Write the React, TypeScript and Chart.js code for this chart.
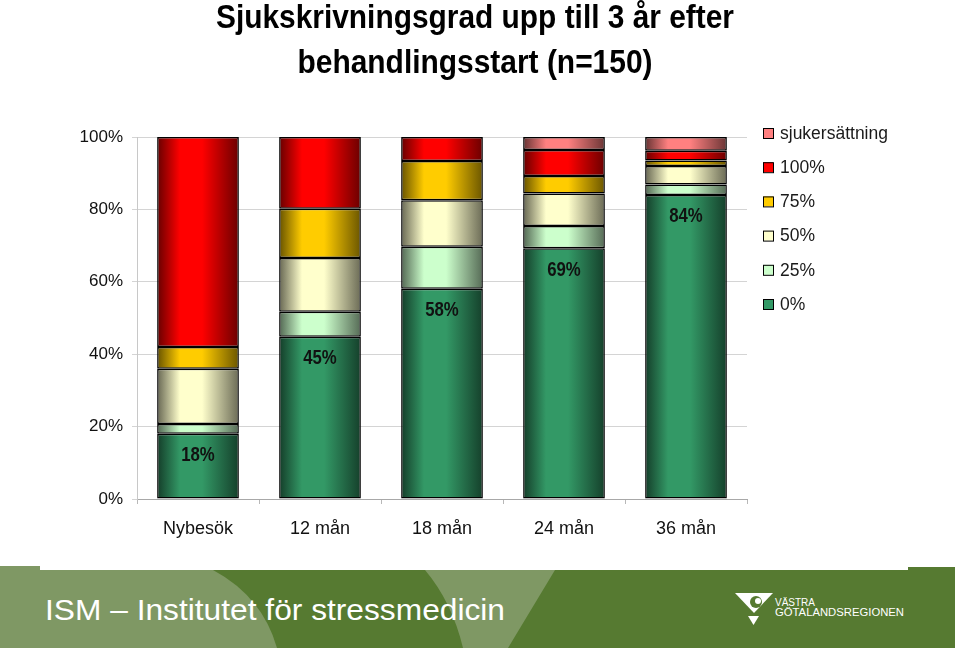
import React, { useEffect, useRef } from "react";
import { Chart, registerables } from "chart.js";

Chart.register(...registerables);

const categories = ["Nybesök", "12 mån", "18 mån", "24 mån", "36 mån"];
const seriesLabels = ["0%", "25%", "50%", "75%", "100%", "sjukersättning"];
const v0 = [18.0, 44.8, 58.1, 69.3, 84.0];
const v25 = [2.7, 6.9, 11.6, 6.1, 2.9];
const v50 = [15.3, 14.9, 12.8, 9.0, 5.1];
const v75 = [6.0, 13.6, 10.9, 4.8, 1.5];
const v100 = [58.0, 19.8, 6.6, 7.2, 2.7];
const vSjuk = [0, 0, 0, 3.6, 3.8];
const yTicks = [0, 20, 40, 60, 80, 100];
const titleLines = ["Sjukskrivningsgrad upp till 3 år efter", "behandlingsstart (n=150)"];

const seriesValues = [v0, v25, v50, v75, v100, vSjuk];
const seriesColors = ["#339966", "#CCFFCC", "#FFFFCC", "#FFCC00", "#FF0000", "#FF8080"];

const FONT = '"Liberation Sans", Arial, sans-serif';
const BAR_PCT = 0.67;

function hexToRgb(h: string) {
  const n = parseInt(h.slice(1), 16);
  return [(n >> 16) & 255, (n >> 8) & 255, n & 255];
}
function shade(h: string, f: number) {
  const [r, g, b] = hexToRgb(h);
  return `rgb(${Math.round(r * f)},${Math.round(g * f)},${Math.round(b * f)})`;
}

function barFill(base: string) {
  return (ctx: any) => {
    const chart = ctx.chart;
    const xs = chart.scales && chart.scales.x;
    if (!xs || !chart.chartArea || ctx.dataIndex === undefined) return base;
    const cx = xs.getPixelForValue(ctx.dataIndex);
    const w = (xs.width / categories.length) * BAR_PCT;
    if (!isFinite(cx) || !isFinite(w)) return base;
    const g = chart.ctx.createLinearGradient(cx - w / 2, 0, cx + w / 2, 0);
    g.addColorStop(0, shade(base, 0.4));
    g.addColorStop(0.28, shade(base, 1));
    g.addColorStop(0.55, shade(base, 1));
    g.addColorStop(1, shade(base, 0.42));
    return g;
  };
}

const titlePlugin = {
  id: "customTitle",
  afterDraw(chart: any) {
    const c = chart.ctx;
    const specs = [
      { text: titleLines[0], y: 28, w: 518 },
      { text: titleLines[1], y: 73, w: 355 },
    ];
    c.save();
    c.fillStyle = "#000";
    c.font = `bold 33px ${FONT}`;
    c.textAlign = "center";
    c.textBaseline = "alphabetic";
    for (const s of specs) {
      const m = c.measureText(s.text).width;
      c.save();
      c.translate(475, s.y);
      c.scale(s.w / m, 1);
      c.fillText(s.text, 0, 0);
      c.restore();
    }
    c.restore();
  },
};

const legendPlugin = {
  id: "customLegend",
  afterDraw(chart: any) {
    const c = chart.ctx;
    c.save();
    c.font = `17.5px ${FONT}`;
    c.textBaseline = "middle";
    c.textAlign = "left";
    const n = chart.data.datasets.length;
    for (let i = 0; i < n; i++) {
      const ds = chart.data.datasets[n - 1 - i];
      const y = 133 + i * 34.2;
      c.fillStyle = ds.legendColor;
      c.fillRect(763, y - 5, 10, 10);
      c.strokeStyle = "#000";
      c.lineWidth = 1;
      c.strokeRect(763.5, y - 4.5, 10, 10);
      c.fillStyle = "#1a1a1a";
      c.fillText(ds.label, 780, y + 1);
    }
    c.restore();
  },
};

const valueLabelPlugin = {
  id: "valueLabels",
  afterDatasetsDraw(chart: any) {
    const meta = chart.getDatasetMeta(0);
    const c = chart.ctx;
    c.save();
    c.font = `bold 19.5px ${FONT}`;
    c.fillStyle = "#111";
    c.textAlign = "center";
    c.textBaseline = "middle";
    meta.data.forEach((el: any, i: number) => {
      const v = chart.data.datasets[0].data[i];
      c.save();
      c.translate(el.x, el.y + 22);
      c.scale(0.86, 1);
      c.fillText(`${Math.round(v)}%`, 0, 0);
      c.restore();
    });
    c.restore();
  },
};

function Footer() {
  return (
    <div style={{ position: "absolute", left: 0, top: 566, width: 960, height: 85 }}>
      <svg width={960} height={85} style={{ display: "block" }}>
        <rect x={0} y={0} width={40} height={4} fill="#7f9864" />
        <rect x={908} y={1} width={47} height={4} fill="#567a31" />
        <rect x={0} y={4} width={955} height={78} fill="#567a31" />
        <path d="M0,4 L213,4 Q262,30 277,82 L0,82 Z" fill="#7f9864" />
        <path d="M425,4 Q452,36 463,82 L508,82 L555,4 Z" fill="#7f9864" />
        <text x={45} y={54} fill="#ffffff" fontFamily={FONT} fontSize={30} textLength={460} lengthAdjust="spacingAndGlyphs">
          ISM – Institutet för stressmedicin
        </text>
        <path d="M735,27 L773,27 L754,47 Z" fill="#ffffff" />
        <circle cx={756} cy={36} r={6} fill="#567a31" />
        <circle cx={758} cy={35} r={3} fill="#ffffff" />
        <path d="M748,50 L759,50 L753.5,59 Z" fill="#ffffff" />
        <text x={775} y={40} fill="#ffffff" fontFamily={FONT} fontSize={10} textLength={40} lengthAdjust="spacingAndGlyphs">
          VÄSTRA
        </text>
        <text x={775} y={50} fill="#ffffff" fontFamily={FONT} fontSize={10} textLength={129} lengthAdjust="spacingAndGlyphs">
          GÖTALANDSREGIONEN
        </text>
      </svg>
    </div>
  );
}

export default function App() {
  const ref = useRef<HTMLCanvasElement | null>(null);
  useEffect(() => {
    if (!ref.current) return;
    const chart = new Chart(ref.current, {
      type: "bar",
      data: {
        labels: categories,
        datasets: seriesValues.map((vals, i) => ({
          label: seriesLabels[i],
          data: vals,
          legendColor: seriesColors[i],
          backgroundColor: barFill(seriesColors[i]),
          borderColor: "#000000",
          borderWidth: (ctx: any) => (ctx.raw ? 1.5 : 0),
          borderSkipped: false,
          barPercentage: BAR_PCT,
          categoryPercentage: 1,
        })) as any,
      },
      options: {
        animation: false,
        responsive: false,
        maintainAspectRatio: false,
        layout: { padding: { left: 0, right: 213, top: 137, bottom: 0 } },
        plugins: {
          legend: { display: false },
          title: { display: false },
          tooltip: { enabled: false },
        },
        scales: {
          x: {
            stacked: true,
            grid: {
              offset: true,
              drawOnChartArea: false,
              drawTicks: true,
              tickLength: 5,
              color: "#b8b8b8",
            },
            border: { color: "#a8a8a8", width: 1 },
            ticks: {
              color: "#111",
              font: { family: FONT, size: 18 },
              padding: 14,
            },
            afterFit: (s: any) => {
              s.height = 66;
            },
          },
          y: {
            stacked: true,
            min: 0,
            max: 100,
            afterBuildTicks: (s: any) => {
              s.ticks = yTicks.map((v) => ({ value: v }));
            },
            grid: { color: "#d4d4d4", tickLength: 5 },
            border: { color: "#c8c8c8", width: 1 },
            ticks: {
              color: "#111",
              font: { family: FONT, size: 17 },
              padding: 9,
              callback: (v: any) => `${v}%`,
            },
            afterFit: (s: any) => {
              s.width = 137;
            },
          },
        },
      },
      plugins: [titlePlugin, legendPlugin, valueLabelPlugin],
    });
    return () => chart.destroy();
  }, []);

  return (
    <div style={{ position: "absolute", left: 0, top: 0, width: 960, height: 651, background: "#fff", overflow: "hidden" }}>
      <canvas ref={ref} width={960} height={565} style={{ display: "block", width: 960, height: 565 }} />
      <Footer />
    </div>
  );
}
